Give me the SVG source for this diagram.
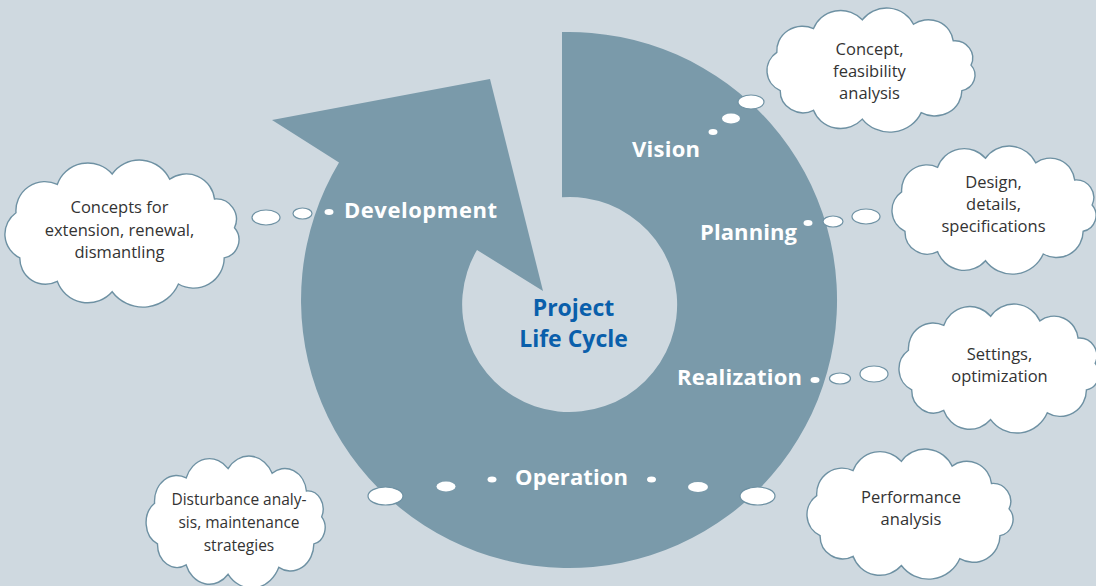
<svg xmlns="http://www.w3.org/2000/svg" xmlns:xlink="http://www.w3.org/1999/xlink" width="1096" height="586" viewBox="0 0 1096 586">
<style>
.bg{fill:#cfd9e0}
.ring{fill:#7a9aaa}
.cloud{fill:#ffffff;stroke:#6e91a3;stroke-width:1.4}
.bub{fill:#ffffff;stroke:#6e91a3;stroke-width:1.2}
.dot{fill:#ffffff}
.lbl{font-family:"Open Sans","Noto Sans",sans-serif;font-weight:700;font-size:22px;fill:#ffffff;text-anchor:middle}
.ttl{font-family:"Open Sans","Noto Sans",sans-serif;font-weight:700;font-size:23px;fill:#0a5fab;text-anchor:middle}
.ct{font-family:"Open Sans","Noto Sans",sans-serif;font-size:16.5px;fill:#333333;text-anchor:middle}
.cts{font-size:15.5px}
</style>
<defs>
<path id="cloudShape" vector-effect="non-scaling-stroke" d="M 17.3 46.3 A 22.6 22.6 0 0 1 49.5 24.3 A 25.3 25.3 0 0 1 92.3 16.2 A 26.2 26.2 0 0 1 137.2 20.3 A 22.1 22.1 0 0 1 172.1 35.6 A 15.8 15.8 0 0 1 187.7 58 A 14.4 14.4 0 0 1 179.7 81.5 A 23.8 23.8 0 0 1 144 101.8 A 30.2 30.2 0 0 1 92.3 107.8 A 25.3 25.3 0 0 1 49.5 99.7 A 20 20 0 0 1 20.3 81.5 A 20.5 20.5 0 0 1 17.3 46.3 Z"/>
</defs>
<rect class="bg" x="0" y="0" width="1096" height="586"/>
<g id="cycle">
<path class="ring" d="M 562 32.1 A 268 268 0 1 1 339 162.5 L 272 120 L 490 79 L 543 291 L 477 250 A 107.5 107.5 0 1 0 562 197.3 Z"/>
<text class="ttl" x="573.5" y="316">Project</text>
<text class="ttl" x="573.5" y="347">Life Cycle</text>
</g>
<g id="labels">
<text class="lbl" x="666" y="157" textLength="68">Vision</text>
<text class="lbl" x="420.5" y="218" textLength="153">Development</text>
<text class="lbl" x="748.5" y="240" textLength="97">Planning</text>
<text class="lbl" x="739.5" y="385" textLength="125">Realization</text>
<text class="lbl" x="571.5" y="485" textLength="113">Operation</text>
</g>
<g id="connectors">
<ellipse class="bub" cx="751" cy="102" rx="13" ry="7"/>
<ellipse class="dot" cx="731" cy="118.5" rx="9" ry="5"/>
<ellipse class="dot" cx="713" cy="132" rx="4.5" ry="3"/>
<ellipse class="bub" cx="266" cy="217.5" rx="14" ry="7.5"/>
<ellipse class="bub" cx="302.5" cy="213.5" rx="9.5" ry="5.5"/>
<ellipse class="dot" cx="329" cy="212" rx="4.5" ry="3"/>
<ellipse class="dot" cx="808" cy="223" rx="4.5" ry="3"/>
<ellipse class="bub" cx="833" cy="221.5" rx="10" ry="5.5"/>
<ellipse class="bub" cx="866" cy="216.5" rx="14" ry="7.5"/>
<ellipse class="dot" cx="815" cy="380" rx="4.5" ry="3"/>
<ellipse class="bub" cx="840" cy="378.5" rx="10.5" ry="5.5"/>
<ellipse class="bub" cx="874" cy="374" rx="14" ry="8"/>
<ellipse class="bub" cx="385.5" cy="496" rx="17.5" ry="9"/>
<ellipse class="dot" cx="446" cy="486.5" rx="9.5" ry="5"/>
<ellipse class="dot" cx="492" cy="479.5" rx="4.5" ry="3"/>
<ellipse class="dot" cx="651.5" cy="479.5" rx="4.5" ry="3"/>
<ellipse class="dot" cx="698" cy="487" rx="10" ry="5"/>
<ellipse class="bub" cx="757.5" cy="496" rx="17.5" ry="9"/>
</g>
<g id="cloud-vision">
<use xlink:href="#cloudShape" class="cloud" transform="translate(757.1 2.25) scale(1.1397 1.084)"/>
<text class="ct" x="869.5" y="55">Concept,</text>
<text class="ct" x="869.5" y="77">feasibility</text>
<text class="ct" x="869.5" y="99">analysis</text>
</g>
<g id="cloud-planning">
<use xlink:href="#cloudShape" class="cloud" transform="translate(882.3 140.1) scale(1.1178 1.1189)"/>
<text class="ct" x="993.5" y="188">Design,</text>
<text class="ct" x="993.5" y="210">details,</text>
<text class="ct" x="993.5" y="232">specifications</text>
</g>
<g id="cloud-realization">
<use xlink:href="#cloudShape" class="cloud" transform="translate(889.5 298) scale(1.0959 1.1276)"/>
<text class="ct" x="999.5" y="360">Settings,</text>
<text class="ct" x="999.5" y="382">optimization</text>
</g>
<g id="cloud-performance">
<use xlink:href="#cloudShape" class="cloud" transform="translate(797.2 443) scale(1.1288 1.1364)"/>
<text class="ct" x="911" y="503">Performance</text>
<text class="ct" x="911" y="525">analysis</text>
</g>
<g id="cloud-development">
<use xlink:href="#cloudShape" class="cloud" transform="translate(-6.2 153.2) scale(1.2822 1.285)"/>
<text class="ct" x="119.5" y="213">Concepts for</text>
<text class="ct" x="119.5" y="236">extension, renewal,</text>
<text class="ct" x="119.5" y="258">dismantling</text>
</g>
<g id="cloud-disturbance">
<use xlink:href="#cloudShape" class="cloud" transform="translate(137.6 449.9) scale(0.9808 1.1538)"/>
<text class="ct cts" x="239" y="505">Disturbance analy-</text>
<text class="ct cts" x="239" y="528">sis, maintenance</text>
<text class="ct cts" x="239" y="551">strategies</text>
</g>
</svg>
